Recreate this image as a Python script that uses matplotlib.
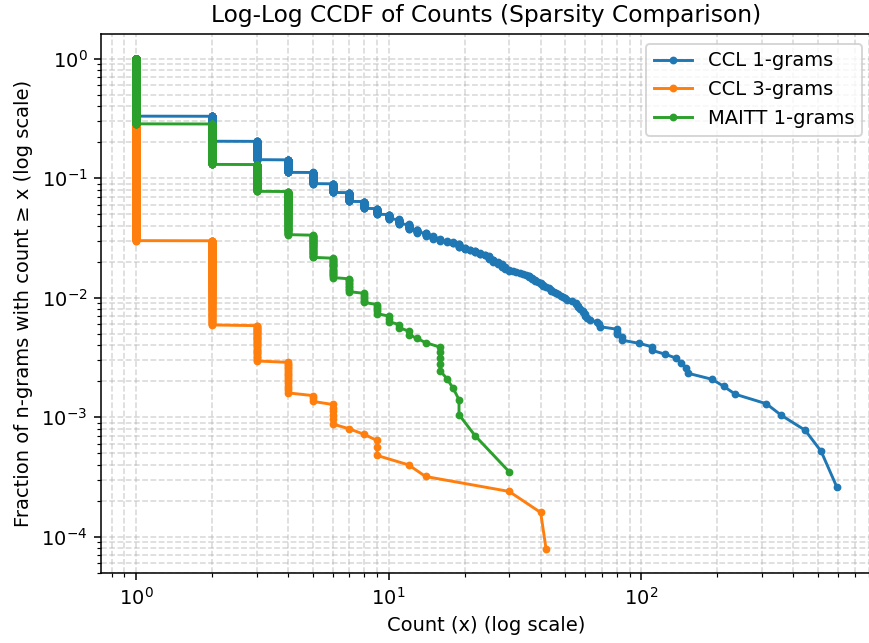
import matplotlib.pyplot as plt
import numpy as np

# frequency-of-frequency tables: count value -> number of n-grams seen that often
ccl1_counts = [1, 2, 3, 4, 5, 6, 7, 8, 9, 10, 11, 12, 13, 14, 15, 16, 17, 18, 19,
               20, 21, 22, 23, 24, 25, 26, 27, 28, 29, 30, 31, 32, 33, 34, 35,
               36, 37, 38, 39, 40, 41, 42, 43, 44, 45, 46, 47, 48, 49, 50, 51,
               53, 55, 56, 57, 59, 60, 61, 63, 67, 68, 69, 80, 84, 98, 110, 124,
               138, 144, 151, 153, 191, 212, 236, 313, 359, 446, 516, 596]
ccl1_freq = [2582, 486, 234, 119, 84, 54, 46, 31, 23, 17, 16, 15, 9, 8, 7, 5, 2, 3, 8,
             4, 2, 4, 3, 2, 6, 4, 3, 4, 3, 2, 1, 1, 1, 1, 1,
             3, 2, 2, 1, 2, 2, 1, 1, 2, 1, 1, 1, 1, 1, 1, 1,
             1, 2, 2, 1, 2, 2, 1, 1, 1, 1, 1, 3, 2, 1, 2, 1,
             1, 1, 1, 1, 1, 1, 1, 1, 1, 1, 1, 1]

ccl3_counts = [1, 2, 3, 4, 5, 6, 7, 8, 9, 12, 14, 30, 40, 42]
ccl3_freq = [12126, 301, 37, 17, 3, 6, 1, 1, 3, 1, 1, 1, 1, 1]

maitt_counts = [1, 2, 3, 4, 5, 6, 7, 8, 9, 10, 11, 12, 13, 14, 16, 17, 18, 19, 22, 30]
maitt_freq = [2041, 439, 150, 125, 34, 20, 10, 6, 5, 3, 2, 2, 1, 1, 5, 1, 1, 2, 1, 1]

series = [
    ("CCL 1-grams", ccl1_counts, ccl1_freq),
    ("CCL 3-grams", ccl3_counts, ccl3_freq),
    ("MAITT 1-grams", maitt_counts, maitt_freq),
]


def ccdf(counts, freq):
    c = np.sort(np.repeat(counts, freq))
    n = len(c)
    return c, 1.0 - np.arange(n) / n


DPI = 140
fig = plt.figure(figsize=(869 / DPI, 643 / DPI), dpi=DPI)
ax = fig.add_axes((101 / 869, 70 / 643, 771 / 869, 539 / 643))

for label, counts, freq in series:
    x, y = ccdf(counts, freq)
    ax.plot(x, y, marker='.', label=label)

ax.set_xscale('log')
ax.set_yscale('log')
ax.set_title("Log-Log CCDF of Counts (Sparsity Comparison)")
ax.set_xlabel("Count (x) (log scale)")
ax.set_ylabel("Fraction of n-grams with count ≥ x (log scale)")
ax.grid(True, which='both', ls='--', alpha=0.5)
ax.legend(loc='upper right')

fig.savefig("out.png", dpi=DPI)
